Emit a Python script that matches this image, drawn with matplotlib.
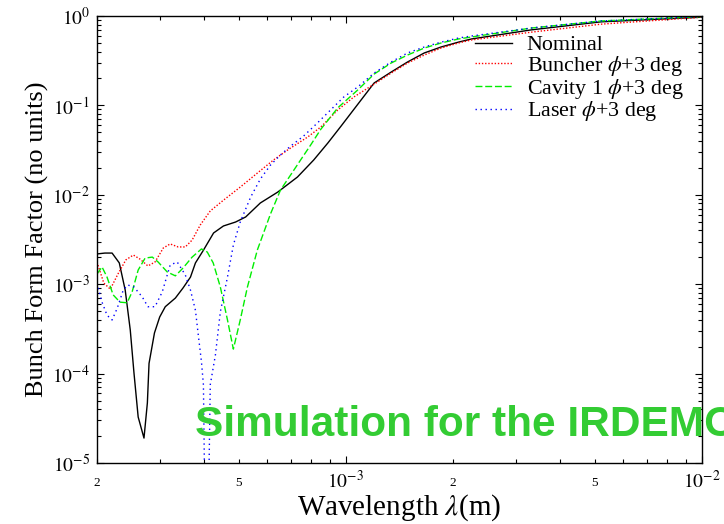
import matplotlib
matplotlib.use("Agg")
import matplotlib.pyplot as plt
from matplotlib.ticker import FixedLocator, FixedFormatter, NullFormatter

plt.rcParams['font.family'] = ['Liberation Serif', 'DejaVu Serif']
plt.rcParams['mathtext.fontset'] = 'stix'

# ---------------- data (wavelength in m, bunch form factor) ----------------
nominal_wl = [2.00e-4, 2.105e-4, 2.205e-4, 2.31e-4, 2.40e-4, 2.48e-4, 2.54e-4, 2.61e-4,
              2.71e-4, 2.77e-4, 2.80e-4, 2.90e-4, 3.00e-4, 3.11e-4, 3.32e-4, 3.49e-4,
              3.66e-4, 3.78e-4, 3.98e-4, 4.25e-4, 4.53e-4, 4.90e-4, 5.23e-4, 5.75e-4,
              6.43e-4, 7.31e-4, 8.12e-4, 8.90e-4, 9.67e-4, 1.08e-3, 1.20e-3, 1.34e-3,
              1.49e-3, 1.66e-3, 1.85e-3, 2.07e-3, 2.25e-3, 3.32e-3, 5.2e-3, 1.0e-2]
nominal_ff = [2.18e-3, 2.23e-3, 2.23e-3, 1.73e-3, 8.6e-4, 3.07e-4, 1.02e-4, 3.27e-5,
              1.9e-5, 4.7e-5, 1.3e-4, 2.85e-4, 4.3e-4, 5.6e-4, 7.0e-4, 9.1e-4,
              1.2e-3, 1.73e-3, 2.4e-3, 3.74e-3, 4.48e-3, 4.96e-3, 5.65e-3, 8.1e-3,
              1.07e-2, 1.58e-2, 2.45e-2, 3.8e-2, 5.8e-2, 0.103, 0.178, 0.236,
              0.306, 0.386, 0.45, 0.51, 0.553, 0.70, 0.86, 0.97]

buncher_wl = [2.00e-4, 2.09e-4, 2.18e-4, 2.29e-4, 2.41e-4, 2.53e-4, 2.64e-4, 2.78e-4,
              2.91e-4, 3.07e-4, 3.21e-4, 3.38e-4, 3.54e-4, 3.70e-4, 3.90e-4, 4.16e-4,
              4.53e-4, 5.05e-4, 5.64e-4, 6.26e-4, 6.86e-4, 7.81e-4, 8.50e-4, 9.49e-4,
              1.052e-3, 1.20e-3, 1.34e-3, 1.49e-3, 1.66e-3, 1.85e-3, 2.07e-3, 2.25e-3,
              3.32e-3, 5.2e-3, 1.0e-2]
buncher_ff = [1.77e-3, 1.03e-3, 8.8e-4, 1.30e-3, 1.87e-3, 2.12e-3, 1.91e-3, 1.60e-3,
              1.77e-3, 2.54e-3, 2.82e-3, 2.61e-3, 2.61e-3, 3.12e-3, 4.6e-3, 6.6e-3,
              8.7e-3, 1.22e-2, 1.75e-2, 2.45e-2, 3.17e-2, 4.43e-2, 5.73e-2, 8.9e-2,
              0.124, 0.173, 0.230, 0.298, 0.366, 0.438, 0.499, 0.539,
              0.66, 0.81, 0.97]

cavity_wl = [2.00e-4, 2.066e-4, 2.134e-4, 2.22e-4, 2.32e-4, 2.43e-4, 2.51e-4, 2.61e-4,
             2.73e-4, 2.86e-4, 2.97e-4, 3.15e-4, 3.32e-4, 3.49e-4, 3.70e-4, 3.93e-4,
             4.08e-4, 4.24e-4, 4.44e-4, 4.65e-4, 4.83e-4, 5.05e-4, 5.29e-4, 5.64e-4,
             6.14e-4, 6.55e-4, 6.99e-4, 7.46e-4, 7.96e-4, 8.50e-4, 9.49e-4, 1.08e-3,
             1.20e-3, 1.34e-3, 1.49e-3, 1.66e-3, 1.85e-3, 2.07e-3, 2.25e-3, 3.32e-3,
             5.2e-3, 1.0e-2]
cavity_ff = [1.30e-3, 1.56e-3, 1.20e-3, 7.6e-4, 6.3e-4, 6.2e-4, 8.2e-4, 1.44e-3,
             1.96e-3, 2.01e-3, 1.77e-3, 1.37e-3, 1.24e-3, 1.52e-3, 2.01e-3, 2.48e-3,
             2.29e-3, 1.73e-3, 9.3e-4, 3.98e-4, 1.88e-4, 3.98e-4, 9.3e-4, 2.41e-3,
             6.1e-3, 1.13e-2, 1.66e-2, 2.45e-2, 3.6e-2, 5.4e-2, 9.4e-2, 0.149,
             0.224, 0.298, 0.366, 0.438, 0.499, 0.553, 0.582, 0.734,
             0.88, 0.985]

laser_wl = [2.00e-4, 2.066e-4, 2.134e-4, 2.205e-4, 2.28e-4, 2.37e-4, 2.44e-4, 2.54e-4,
            2.68e-4, 2.78e-4, 2.91e-4, 3.05e-4, 3.21e-4, 3.36e-4, 3.54e-4, 3.66e-4,
            3.78e-4, 3.85e-4, 3.93e-4, 3.98e-4, 4.06e-4, 4.16e-4, 4.30e-4, 4.44e-4,
            4.65e-4, 4.83e-4, 5.05e-4, 5.40e-4, 5.75e-4, 6.14e-4, 6.55e-4, 6.99e-4,
            7.61e-4, 8.33e-4, 9.06e-4, 9.86e-4, 1.08e-3, 1.20e-3, 1.34e-3, 1.49e-3,
            1.66e-3, 1.85e-3, 2.07e-3, 2.25e-3, 3.32e-3, 5.2e-3, 1.0e-2]
laser_ff = [1.03e-3, 6.3e-4, 4.5e-4, 3.98e-4, 5.4e-4, 8.6e-4, 9.8e-4, 9.3e-4,
            7.2e-4, 5.6e-4, 5.6e-4, 8.2e-4, 1.64e-3, 1.77e-3, 1.27e-3, 8.6e-4,
            5.1e-4, 2.7e-4, 1.35e-4, 7.5e-5, 1.0e-7, 7.5e-5, 1.61e-4, 4.9e-4,
            1.20e-3, 2.74e-3, 4.96e-3, 9.4e-3, 1.50e-2, 2.15e-2, 2.79e-2, 3.5e-2,
            4.55e-2, 6.4e-2, 8.9e-2, 0.124, 0.161, 0.230, 0.306, 0.386,
            0.45, 0.51, 0.567, 0.597, 0.734, 0.88, 0.985]

labels = ['Nominal', r'Buncher $\phi$+3 deg', r'Cavity 1 $\phi$+3 deg', r'Laser $\phi$+3 deg']

x_major = [1e-3, 1e-2]
x_major_labels = [r'$10^{-3}$', r'$10^{-2}$']
x_minor = [2e-4, 3e-4, 4e-4, 5e-4, 6e-4, 7e-4, 8e-4, 9e-4,
           2e-3, 3e-3, 4e-3, 5e-3, 6e-3, 7e-3, 8e-3, 9e-3]
x_minor_labels = ['2', '', '', '5', '', '', '', '', '2', '', '', '5', '', '', '', '']
y_major = [1e-5, 1e-4, 1e-3, 1e-2, 1e-1, 1e0]
y_major_labels = [r'$10^{-5}$', r'$10^{-4}$', r'$10^{-3}$', r'$10^{-2}$', r'$10^{-1}$', r'$10^{0}$']

# ---------------- figure ----------------
W, H = 724, 524
fig = plt.figure(figsize=(W / 100, H / 100), dpi=100)
ax = fig.add_axes([97 / W, 61 / H, 605 / W, 447 / H])

ax.plot(nominal_wl, nominal_ff, color='black', lw=1.0, ls='-', label=labels[0])
ax.plot(buncher_wl, buncher_ff, color='#ff0000', lw=1.0, ls=(0, (1, 1.3)), label=labels[1])
ax.plot(cavity_wl, cavity_ff, color='#00ee00', lw=1.0, ls=(0, (5, 2)), label=labels[2])
ax.plot(laser_wl, laser_ff, color='#0000ff', lw=1.0, ls=(0, (1, 2.6)), label=labels[3])

ax.set_xscale('log')
ax.set_yscale('log')
ax.set_xlim(2e-4, 1e-2)
ax.set_ylim(1e-5, 1)

ax.xaxis.set_major_locator(FixedLocator(x_major))
ax.xaxis.set_major_formatter(FixedFormatter(x_major_labels))
ax.xaxis.set_minor_locator(FixedLocator(x_minor))
ax.xaxis.set_minor_formatter(FixedFormatter(x_minor_labels))

y_minor = [m * d for d in [1e-5, 1e-4, 1e-3, 1e-2, 1e-1] for m in range(2, 10)]
ax.yaxis.set_major_locator(FixedLocator(y_major))
ax.yaxis.set_major_formatter(FixedFormatter(y_major_labels))
ax.yaxis.set_minor_locator(FixedLocator(y_minor))
ax.yaxis.set_minor_formatter(NullFormatter())

ax.tick_params(which='both', direction='in', top=True, right=True, width=0.8, colors='black')
ax.tick_params(which='major', length=5, labelsize=14, pad=5)
ax.tick_params(axis='x', which='minor', length=3, labelsize=9.5, pad=10)
ax.tick_params(axis='y', which='minor', length=3)
for s in ax.spines.values():
    s.set_linewidth(1.0)

ax.set_xlabel(r'Wavelength $\lambda$(m)', fontsize=21)
ax.xaxis.set_label_coords(0.5, -0.066)
ax.set_ylabel('Bunch Form Factor (no units)', fontsize=19)
ax.yaxis.set_label_coords(-0.08, 0.5)

leg = ax.legend(loc='upper left', bbox_to_anchor=(475 / W, (H - 35) / H),
                bbox_transform=fig.transFigure, frameon=False, fontsize=15.8,
                handlelength=1.7, handletextpad=0.65, labelspacing=-0.06,
                borderpad=0, borderaxespad=0)

fig.text(195 / W, (H - 436) / H, 'Simulation for the IRDEMO', color='#33cc33',
         fontsize=30.5, fontweight='bold', family=['Liberation Sans', 'DejaVu Sans'],
         ha='left', va='baseline')

fig.savefig('out.png', dpi=100)
